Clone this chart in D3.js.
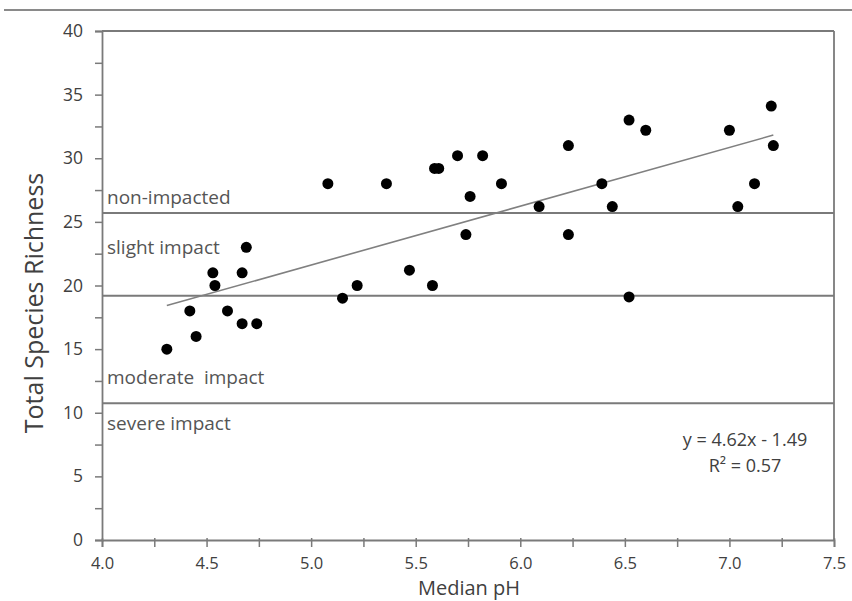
<!DOCTYPE html>
<html><head><meta charset="utf-8">
<script src="https://cdn.jsdelivr.net/npm/d3@7"></script>
<style>body{margin:0;background:#fff}svg{display:block}text{font-family:"Open Sans","Noto Sans",sans-serif}</style>
</head><body>
<svg id="c" width="852" height="601"></svg>
<script>
const medianPH = [4.31,4.42,4.45,4.53,4.54,4.60,4.67,4.69,4.67,4.74,5.08,5.15,5.22,5.36,5.47,5.58,5.59,5.61,5.70,5.74,5.76,5.82,5.91,6.09,6.23,6.23,6.39,6.44,6.52,6.52,6.60,7.00,7.04,7.12,7.20,7.21];
const richness = [15,18,16,21,20,18,21,23,17,17,28,19,20,28,21.2,20,29.2,29.2,30.2,24,27,30.2,28,26.2,24,31,28,26.2,33,19.1,32.2,32.2,26.2,28,34.1,31];
const thresholds = [25.7, 19.2, 10.75];
const bandLabels = ["non-impacted","slight impact","moderate  impact","severe impact"];
const bandLabelY = [26.9, 23.0, 12.8, 9.2];
const xTicks = [4.0,4.5,5.0,5.5,6.0,6.5,7.0,7.5];
const yTicks = [0,5,10,15,20,25,30,35,40];
const slope = 4.62, intercept = -1.49;
const equationLines = ["y = 4.62x - 1.49","R² = 0.57"];

const svg = d3.select("#c");
const x = d3.scaleLinear().domain([4.0,7.5]).range([102,834]);
const y = d3.scaleLinear().domain([0,40]).range([540,31]);
const grey = "#7a7a7a", txt = "#404040";

svg.append("line").attr("x1",4).attr("x2",852).attr("y1",10).attr("y2",10).attr("stroke","#8a8a8a").attr("stroke-width",2);

svg.append("line").attr("x1",x(4)).attr("x2",x(7.5)).attr("y1",y(40)).attr("y2",y(40)).attr("stroke",grey).attr("stroke-width",1.8);
svg.append("line").attr("x1",x(7.5)).attr("x2",x(7.5)).attr("y1",y(40)).attr("y2",y(0)).attr("stroke",grey).attr("stroke-width",1.8);

const xAxis = d3.axisBottom(x).tickValues(d3.range(4.0,7.51,0.25)).tickSize(7)
  .tickFormat(d => xTicks.some(t=>Math.abs(t-d)<1e-6) ? d3.format(".1f")(d) : "");
const gx = svg.append("g").attr("transform",`translate(0,${y(0)})`).call(xAxis);
const yAxis = d3.axisLeft(y).tickValues(d3.range(0,40.1,2.5)).tickSize(7)
  .tickFormat(d => yTicks.includes(d) ? d : "");
const gy = svg.append("g").attr("transform",`translate(${x(4)},0)`).call(yAxis);
[gx,gy].forEach(g=>{
  g.select(".domain").attr("stroke",grey).attr("stroke-width",1.8);
  g.selectAll(".tick line").attr("stroke",grey).attr("stroke-width",1.5);
  g.selectAll(".tick text").attr("fill",txt).attr("font-size",17.5).attr("font-family","'Open Sans',sans-serif");
});
gx.selectAll(".tick line").attr("y1",-2);
gx.selectAll(".tick text").attr("font-size",16.5).attr("dy","0.35em").attr("y",23);
gy.selectAll(".tick text").attr("x",-19);

svg.selectAll("line.th").data(thresholds).join("line").attr("class","th")
  .attr("x1",x(4)).attr("x2",x(7.5)).attr("y1",d=>y(d)).attr("y2",d=>y(d))
  .attr("stroke",grey).attr("stroke-width",2);
svg.selectAll("text.band").data(bandLabels).join("text").attr("class","band")
  .attr("x",x(4)+5).attr("y",(d,i)=>y(bandLabelY[i])).attr("dy","0.35em")
  .attr("fill","#555").attr("font-size",19).attr("xml:space","preserve").text(d=>d);

const xr = d3.extent(medianPH);
svg.append("line").attr("x1",x(xr[0])).attr("y1",y(slope*xr[0]+intercept))
  .attr("x2",x(xr[1])).attr("y2",y(slope*xr[1]+intercept)).attr("stroke","#808080").attr("stroke-width",1.6);

svg.selectAll("circle").data(medianPH).join("circle")
  .attr("cx",d=>x(d)).attr("cy",(d,i)=>y(richness[i])).attr("r",5.5).attr("fill","#000");

svg.selectAll("text.eq").data(equationLines).join("text").attr("class","eq")
  .attr("x",745).attr("y",(d,i)=>440+i*26).attr("dy","0.35em").attr("text-anchor","middle")
  .attr("fill",txt).attr("font-size",18).text(d=>d);

svg.append("text").attr("x",469).attr("y",595).attr("text-anchor","middle")
  .attr("fill",txt).attr("font-size",20).text("Median pH");
svg.append("text").attr("transform","translate(34,303) rotate(-90)").attr("dy","0.35em").attr("text-anchor","middle")
  .attr("fill",txt).attr("font-size",25).text("Total Species Richness");
</script>
</body></html>
